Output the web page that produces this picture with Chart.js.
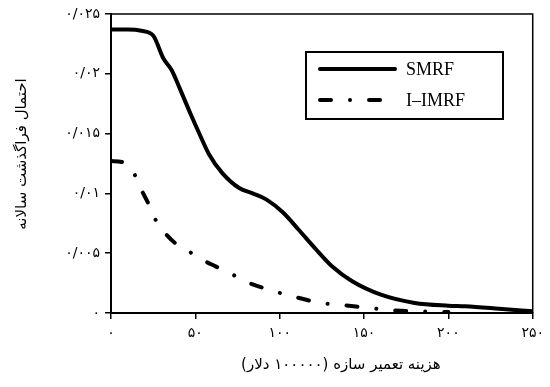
<!DOCTYPE html>
<html>
<head>
<meta charset="utf-8">
<script src="https://cdn.jsdelivr.net/npm/chart.js@4/dist/chart.umd.min.js"></script>
<style>
  html, body { margin: 0; padding: 0; background: #fff; }
  #wrap { width: 550px; height: 387px; }
</style>
</head>
<body>
<div id="wrap"><canvas id="chart"></canvas></div>
<script>
const smrfCost = [0, 10, 18, 25, 31, 36, 41, 47, 53, 58, 66, 76, 84, 92, 102, 111, 121, 131, 143, 160, 180, 200, 210, 230, 250];
const smrfProb = [0.0237, 0.0237, 0.0236, 0.0232, 0.0213, 0.0203, 0.0187, 0.0167, 0.0148, 0.0133, 0.0117, 0.01045, 0.0100, 0.0095, 0.0084, 0.0070, 0.0054, 0.0039, 0.00265, 0.00153, 0.00084, 0.00061, 0.00056, 0.00036, 0.00014];

const iimrfCost = [0, 7, 14, 18, 22, 26, 32, 38, 46, 54, 62, 71, 82, 97, 108, 124, 135, 153, 167, 180, 200];
const iimrfProb = [0.0127, 0.0126, 0.01157, 0.0103, 0.0092, 0.0079, 0.0067, 0.00585, 0.00516, 0.00446, 0.0039, 0.00329, 0.00251, 0.00181, 0.00139, 0.00084, 0.0007, 0.00042, 0.00022, 0.00014, 0.00008];

const seriesLabels = ['SMRF', 'I\u2013IMRF'];
const xTickLabels = ['۰', '۵۰', '۱۰۰', '۱۵۰', '۲۰۰', '۲۵۰'];
const yTickLabels = ['۰', '۰/۰۰۵', '۰/۰۱', '۰/۰۱۵', '۰/۰۲', '۰/۰۲۵'];
const xTitle = 'هزینه تعمیر سازه (۱۰۰۰۰۰ دلار)';
const yTitle = 'احتمال فراگذشت سالانه';

const toPoints = (xs, ys) => xs.map((x, i) => ({ x: x, y: ys[i] }));
// RTL embedding, with some blank room in front to nudge the title off-centre like the original
const rtl = (s, pad) => '\u00A0'.repeat(pad) + '\u202B' + s + '\u202C';

const persianFont = "'DejaVu Sans', sans-serif";

// box around the plot and a boxed legend inside it
const framePlugin = {
  id: 'frame',
  afterDraw(chart) {
    const ctx = chart.ctx;
    const a = chart.chartArea;
    ctx.save();
    ctx.strokeStyle = '#000';
    ctx.lineWidth = 1.5;
    ctx.beginPath();
    ctx.moveTo(a.left, a.top);
    ctx.lineTo(a.right, a.top);
    ctx.lineTo(a.right, a.bottom);
    ctx.stroke();

    // legend
    const bx = 306, by = 52, bw = 197, bh = 67;
    ctx.lineWidth = 2;
    ctx.strokeRect(bx, by, bw, bh);
    ctx.font = "18px 'Liberation Serif', serif";
    ctx.textBaseline = 'middle';
    ctx.fillStyle = '#000';
    chart.data.datasets.forEach((ds, i) => {
      const y = by + 17 + i * 31;
      ctx.lineWidth = ds.borderWidth;
      ctx.lineCap = ds.borderCapStyle || 'butt';
      ctx.setLineDash(ds.borderDash || []);
      ctx.beginPath();
      ctx.moveTo(bx + 14, y);
      ctx.lineTo(bx + 89, y);
      ctx.stroke();
      ctx.setLineDash([]);
      ctx.fillText(ds.label, bx + 100, y + 1);
    });
    ctx.restore();
  },
};

const config = {
  type: 'line',
  data: {
    datasets: [
      {
        label: seriesLabels[0],
        data: toPoints(smrfCost, smrfProb),
        borderColor: '#000',
        borderWidth: 4,
        pointRadius: 0,
        cubicInterpolationMode: 'monotone',
        borderCapStyle: 'round',
      },
      {
        label: seriesLabels[1],
        data: toPoints(iimrfCost, iimrfProb),
        borderColor: '#000',
        borderWidth: 4,
        pointRadius: 0,
        cubicInterpolationMode: 'monotone',
        borderCapStyle: 'round',
        borderDash: [11, 19, 0.01, 19],
      },
    ],
  },
  options: {
    responsive: true,
    maintainAspectRatio: false,
    devicePixelRatio: 1,
    animation: false,
    layout: { padding: { top: 14, right: 15, left: 0, bottom: 0 } },
    plugins: {
      legend: { display: false },
      tooltip: { enabled: false },
    },
    scales: {
      x: {
        type: 'linear',
        min: 0,
        max: 250,
        ticks: {
          stepSize: 50,
          color: '#000',
          padding: 6,
          maxRotation: 0,
          font: { family: persianFont, size: 14 },
          callback: (v, i) => xTickLabels[i],
        },
        grid: {
          drawOnChartArea: false,
          drawTicks: true,
          tickLength: 6,
          color: '#000',
          lineWidth: 1.5,
        },
        border: { color: '#000', width: 2 },
        title: {
          display: true,
          text: rtl(xTitle, 8),
          color: '#000',
          font: { family: persianFont, size: 15 },
          padding: { top: 0, bottom: 13 },
        },
        afterFit: (scale) => { scale.height = 74; },
      },
      y: {
        min: 0,
        max: 0.025,
        ticks: {
          stepSize: 0.005,
          color: '#000',
          padding: 5,
          font: { family: persianFont, size: 14 },
          callback: (v, i) => yTickLabels[i],
        },
        grid: {
          drawOnChartArea: false,
          drawTicks: true,
          tickLength: 6,
          color: '#000',
          lineWidth: 1.5,
        },
        border: { color: '#000', width: 2 },
        title: {
          display: true,
          text: rtl(yTitle, 4),
          color: '#000',
          font: { family: persianFont, size: 15 },
          padding: { top: 13, bottom: 0 },
        },
        afterFit: (scale) => { scale.width = 111; },
      },
    },
  },
  plugins: [framePlugin],
};

new Chart(document.getElementById('chart'), config);
</script>
</body>
</html>
